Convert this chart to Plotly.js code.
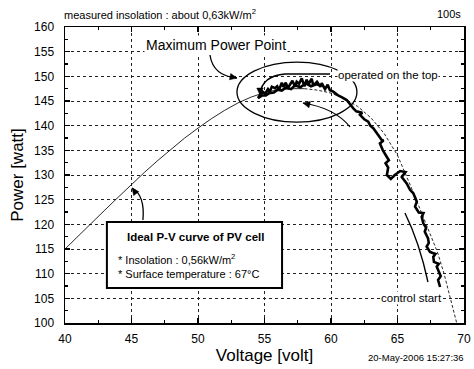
<!DOCTYPE html>
<html>
<head>
<meta charset="utf-8">
<script src="https://cdn.plot.ly/plotly-3.0.1.min.js"></script>
<style>html,body{margin:0;padding:0;background:#fff;}#chart{width:474px;height:369px;}</style>
</head>
<body>
<div id="chart"></div>
<script>
// Ideal P-V curve (solid part, then dashed part)
const idealV1 = [40,41,42,43,44,45,46,47,48,49,50,51,52,53,54,55,56,57,58];
const idealP1 = [115,117.7,120.3,122.9,125.5,128.1,130.6,133.0,135.3,137.5,139.5,141.4,143.1,144.6,145.8,146.7,147.3,147.5,147.5];
const idealV2 = [58,59,60,61,62,63,64,65,66,67,68,68.5,69,69.45];
const idealP2 = [147.5,147.2,146.6,145.5,143.9,141.6,138.4,134.0,127.7,121.2,114.4,110.0,104.9,100];

// Measured operating trajectory (from control start up to the top)
const measV = [68.20,68.05,68.25,67.95,68.10,67.74,67.69,67.85,67.44,67.19,67.35,67.29,67.05,67.15,66.94,66.82,66.95,66.60,66.32,66.45,66.19,65.94,65.69,65.32,65.60,65.20,64.80,64.50,64.20,64.30,64.10,64.35,64.19,63.90,63.68,63.95,63.81,63.50,63.18,62.95,62.80,62.50,62.18,62.35,61.90,61.68,61.40,61.18,60.80,60.50,60.17,
  59.92,59.75,59.55,59.30,59.20,58.95,58.67,58.55,58.30,58.17,58.00,57.80,57.60,57.42,57.30,57.10,56.92,56.75,56.60,56.41,56.30,56.10,55.95,55.79,55.55,55.40,55.26,55.05,54.85,54.70,54.51,
  54.80,55.10,55.35,55.70,56.00,56.30,56.60,57.00,57.30,57.70,58.10,58.50,58.90,59.30];
const measP = [107.3,108.7,109.5,111.4,112.0,112.4,113.4,114.0,114.4,115.5,116.2,117.2,118.5,119.3,120.2,121.5,122.3,122.4,123.6,124.6,126.3,127.0,128.3,129.6,130.6,130.8,130.0,129.2,130.0,131.5,132.4,133.0,133.7,135.0,136.4,137.0,137.1,138.3,139.5,140.0,140.8,141.3,142.2,142.6,142.9,143.5,144.5,145.2,145.8,146.2,146.9,
  147.2,148.3,147.4,148.6,147.9,148.9,148.1,149.5,148.4,149.3,148.0,149.6,148.5,148.9,147.9,149.1,148.3,147.6,148.7,147.9,148.7,147.3,148.0,147.6,147.9,146.9,147.4,146.5,146.9,146.2,145.6,
  146.1,146.1,146.6,146.7,147.3,147.1,147.7,147.4,148.2,147.8,148.6,148.0,148.4,148.1];

const xTicks = [40,45,50,55,60,65,70];
const yTicks = [100,105,110,115,120,125,130,135,140,145,150,155,160];

const topLeftText = 'measured insolation : about 0,63kW/m<sup>2</sup>';
const topRightText = '100s';
const dateText = '20-May-2006 15:27:36';
const mppText = 'Maximum Power Point';
const topOpText = 'operated on the top';
const startText = 'control start';
const boxTitle = '<b>Ideal P-V curve of PV cell</b>';
const boxLine1 = '* Insolation : 0,56kW/m<sup>2</sup>';
const boxLine2 = '* Surface temperature : 67°C';

const FONT = 'Liberation Sans, Arial, Helvetica, sans-serif';

const traces = [
  {x: idealV1, y: idealP1, mode: 'lines', line: {color: '#111', width: 0.9}, hoverinfo: 'skip'},
  {x: idealV2, y: idealP2, mode: 'lines', line: {color: '#111', width: 0.9, dash: '3px,2px'}, hoverinfo: 'skip'},
  {x: measV, y: measP, mode: 'lines', line: {color: '#000', width: 2.6}, hoverinfo: 'skip'}
];

const axisCommon = {
  showline: true, linecolor: '#000', linewidth: 1.5, mirror: 'ticks',
  ticks: 'inside', ticklen: 5, tickwidth: 1.2, tickcolor: '#000',
  showgrid: true, gridcolor: '#222', gridwidth: 1, griddash: 'dot',
  zeroline: false,
  tickfont: {family: FONT, size: 12, color: '#000'},
  minor: {dtick: 2.5, ticks: 'inside', ticklen: 3, tickcolor: '#000', showgrid: false}
};

// pixel scale of the plot area (for arrowhead triangles)
const PX_PER_V = 399 / 30, PX_PER_W = 296 / 60;
function tri(x, y, dx, dy) {
  const n = Math.hypot(dx, dy); dx /= n; dy /= n;
  const L = 7, H = 3.2;
  const bx = -dx * L, by = -dy * L;       // base centre offset (px)
  const px = -dy * H, py = dx * H;        // perpendicular (px)
  const toD = (ox, oy) => [(x + ox / PX_PER_V).toFixed(3), (y - oy / PX_PER_W).toFixed(3)];
  const a = toD(0, 0), b = toD(bx + px, by + py), c = toD(bx - px, by - py);
  return {type: 'path', xref: 'x', yref: 'y', path: `M ${a[0]},${a[1]} L ${b[0]},${b[1]} L ${c[0]},${c[1]} Z`,
          fillcolor: '#000', line: {color: '#000', width: 0.5}};
}

const shapes = [
  {type: 'circle', xref: 'x', yref: 'y', x0: 52.93, x1: 61.95, y0: 140.7, y1: 152.9, line: {color: '#000', width: 1.3}},
  {type: 'path', xref: 'x', yref: 'y', path: 'M 50.90,154.32 Q 51.13,150.07 52.93,149.66', line: {color: '#000', width: 1.3}},
  {type: 'path', xref: 'x', yref: 'y', path: 'M 59.92,150.47 L 56.54,150.47 Q 54.81,150.07 54.66,146.4', line: {color: '#000', width: 1.5}},
  {type: 'path', xref: 'x', yref: 'y', path: 'M 57.89,144.59 Q 60.30,143.58 61.43,139.73', line: {color: '#000', width: 1.2}},
  {type: 'path', xref: 'x', yref: 'y', path: 'M 65.56,122.30 Q 66.65,116.31 67.29,108.31', line: {color: '#000', width: 1.4}},
  {type: 'rect', xref: 'paper', yref: 'paper', x0: 0.105, x1: 0.544, y0: 0.118, y1: 0.341, fillcolor: '#fff', line: {color: '#000', width: 2}, layer: 'above'},
  {type: 'path', xref: 'x', yref: 'y', path: 'M 45.86,120.88 Q 46.02,125.94 45.04,127.36', line: {color: '#000', width: 1.3}},
  tri(52.93, 149.66, 1, 0.2),
  tri(54.66, 146.2, 0, 1),
  tri(57.89, 144.59, -1, -0.25),
  tri(45.04, 127.36, -0.6, -0.8)
];

const annotations = [
  {text: topLeftText, xref: 'paper', yref: 'paper', x: -0.0075, y: 1.044, xanchor: 'left', yanchor: 'middle', showarrow: false, font: {family: FONT, size: 11, color: '#000'}},
  {text: topRightText, xref: 'paper', yref: 'paper', x: 0.997, y: 1.044, xanchor: 'right', yanchor: 'middle', showarrow: false, font: {family: FONT, size: 11, color: '#000'}},
  {text: dateText, xref: 'paper', yref: 'paper', x: 1.005, y: -0.115, xanchor: 'right', yanchor: 'middle', showarrow: false, font: {family: FONT, size: 9.5, color: '#000'}},
  {text: mppText, xref: 'x', yref: 'y', x: 51.39, y: 156.35, xanchor: 'center', yanchor: 'middle', showarrow: false, bgcolor: '#fff', font: {family: FONT, size: 14, color: '#000'}},
  {text: topOpText, xref: 'x', yref: 'y', x: 64.29, y: 150.27, xanchor: 'center', yanchor: 'middle', showarrow: false, bgcolor: '#fff', borderpad: 0, font: {family: FONT, size: 11.5, color: '#000'}},
  {text: startText, xref: 'x', yref: 'y', x: 66.02, y: 105.07, xanchor: 'center', yanchor: 'middle', showarrow: false, bgcolor: '#fff', borderpad: 0, font: {family: FONT, size: 11.5, color: '#000'}},
  {text: boxTitle, xref: 'paper', yref: 'paper', x: 0.327, y: 0.2905, xanchor: 'center', yanchor: 'middle', showarrow: false, font: {family: FONT, size: 11.5, color: '#000'}},
  {text: boxLine1, xref: 'paper', yref: 'paper', x: 0.128, y: 0.216, xanchor: 'left', yanchor: 'middle', showarrow: false, font: {family: FONT, size: 11, color: '#000'}},
  {text: boxLine2, xref: 'paper', yref: 'paper', x: 0.128, y: 0.1655, xanchor: 'left', yanchor: 'middle', showarrow: false, font: {family: FONT, size: 11, color: '#000'}}
];

const layout = {
  width: 474, height: 369,
  margin: {l: 65, r: 10, t: 27, b: 46, pad: 0},
  paper_bgcolor: '#fff', plot_bgcolor: '#fff',
  showlegend: false,
  font: {family: FONT, color: '#000'},
  xaxis: Object.assign({}, axisCommon, {
    range: [40, 70], tickvals: xTicks, ticktext: xTicks.map(String),
    ticklabelstandoff: 4,
    title: {text: 'Voltage [volt]', font: {family: FONT, size: 17, color: '#000'}, standoff: 2}
  }),
  yaxis: Object.assign({}, axisCommon, {
    range: [100, 160], tickvals: yTicks, ticktext: yTicks.map(String),
    ticklabelstandoff: 7,
    title: {text: 'Power [watt]', font: {family: FONT, size: 17, color: '#000'}, standoff: 6}
  }),
  shapes: shapes,
  annotations: annotations
};

Plotly.newPlot('chart', traces, layout, {staticPlot: true, displayModeBar: false});
</script>
</body>
</html>
